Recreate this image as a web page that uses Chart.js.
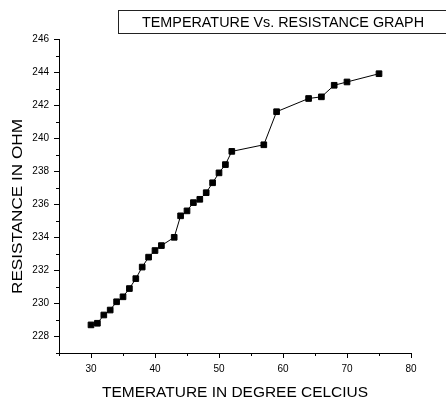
<!DOCTYPE html>
<html>
<head>
<meta charset="utf-8">
<script src="https://cdn.jsdelivr.net/npm/chart.js@4"></script>
<style>
  html, body { margin: 0; padding: 0; background: #fff; }
  #wrap { width: 446px; height: 398px; }
</style>
</head>
<body>
<div id="wrap"><canvas id="chart" width="446" height="398"></canvas></div>
<script>
const temperature = [30, 31, 32, 33, 34, 35, 36, 37, 38, 39, 40, 41, 43, 44, 45, 46, 47, 48, 49, 50, 51, 52, 57, 59, 64, 66, 68, 70, 75];
const resistance = [228.7, 228.8, 229.3, 229.6, 230.1, 230.4, 230.9, 231.5, 232.2, 232.8, 233.2, 233.5, 234.0, 235.3, 235.6, 236.1, 236.3, 236.7, 237.3, 237.9, 238.4, 239.2, 239.6, 241.6, 242.4, 242.5, 243.2, 243.4, 243.9];
const chartTitle = 'TEMPERATURE Vs. RESISTANCE GRAPH';
const xTitle = 'TEMERATURE IN DEGREE CELCIUS';
const yTitle = 'RESISTANCE IN OHM';

const FONT = '"Liberation Sans", Arial, sans-serif';

// draw text stretched to a given width (the original uses a wide Arial)
function fitText(ctx, text, x, y, w, rot) {
    ctx.save();
    ctx.translate(x, y);
    ctx.rotate(rot);
    ctx.font = '14.5px ' + FONT;
    const m = ctx.measureText(text).width;
    ctx.scale(w / m, 1);
    ctx.textAlign = 'center';
    ctx.textBaseline = 'alphabetic';
    ctx.fillStyle = '#000';
    ctx.fillText(text, 0, 0);
    ctx.restore();
}

const decor = {
    id: 'decor',
    afterDraw(chart) {
        const ctx = chart.ctx;
        const xs = chart.scales.x, ys = chart.scales.y;

        // minor ticks
        ctx.save();
        ctx.strokeStyle = '#000';
        ctx.lineWidth = 1;
        ctx.beginPath();
        for (let v = 25; v <= 80; v += 10) {
            const px = Math.round(xs.getPixelForValue(v)) + 0.5;
            ctx.moveTo(px, xs.top);
            ctx.lineTo(px, xs.top + 3);
        }
        for (let v = 227; v <= 246; v += 2) {
            const py = Math.round(ys.getPixelForValue(v)) + 0.5;
            ctx.moveTo(ys.right, py);
            ctx.lineTo(ys.right - 3, py);
        }
        ctx.stroke();

        // title box
        ctx.strokeStyle = '#222';
        ctx.strokeRect(118.5, 10.5, 340, 23);
        ctx.restore();

        fitText(ctx, chartTitle, 283, 27, 282, 0);
        fitText(ctx, xTitle, 235, 397, 266, 0);
        fitText(ctx, yTitle, 22, 206.5, 175, -Math.PI / 2);
    }
};

new Chart(document.getElementById('chart'), {
    type: 'line',
    data: {
        labels: temperature,
        datasets: [{
            data: temperature.map((t, i) => ({ x: t, y: resistance[i] })),
            borderColor: '#000',
            borderWidth: 1,
            backgroundColor: '#000',
            pointStyle: 'rect',
            pointRadius: 4,
            pointBorderWidth: 1,
            pointBorderColor: '#000',
            pointBackgroundColor: '#000',
            tension: 0
        }]
    },
    options: {
        responsive: false,
        animation: false,
        events: [],
        layout: { padding: { top: 39, right: 35, left: 0, bottom: 0 } },
        plugins: { legend: { display: false }, title: { display: false }, tooltip: { enabled: false } },
        scales: {
            x: {
                type: 'linear',
                min: 25,
                max: 80,
                afterFit: s => { s.height = 45; },
                border: { color: '#000', width: 1 },
                grid: {
                    drawOnChartArea: false,
                    tickLength: 5,
                    tickColor: c => c.tick && c.tick.value % 10 === 0 ? '#000' : 'rgba(0,0,0,0)'
                },
                ticks: {
                    stepSize: 5,
                    autoSkip: false,
                    maxRotation: 0,
                    padding: 5,
                    color: '#000',
                    font: { family: FONT, size: 10 },
                    callback: v => v % 10 === 0 ? v : ''
                }
            },
            y: {
                min: 227,
                max: 246,
                afterFit: s => { s.width = 59; },
                border: { color: '#000', width: 1 },
                grid: {
                    drawOnChartArea: false,
                    tickLength: 5,
                    tickColor: c => c.tick && c.tick.value % 2 === 0 ? '#000' : 'rgba(0,0,0,0)'
                },
                ticks: {
                    stepSize: 1,
                    autoSkip: false,
                    padding: 5,
                    color: '#000',
                    font: { family: FONT, size: 10 },
                    callback: v => v % 2 === 0 ? v : ''
                }
            }
        }
    },
    plugins: [decor]
});
</script>
</body>
</html>
